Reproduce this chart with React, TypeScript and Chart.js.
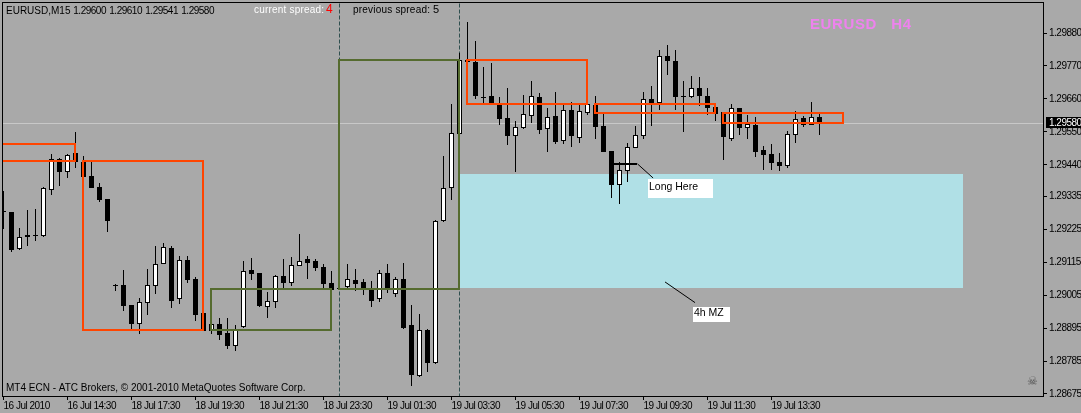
import React, { useEffect, useRef } from "react";
import { Chart, registerables } from "chart.js";

Chart.register(...registerables);

const opens = [1.29286,1.29282,1.29159,1.29199,1.29206,1.29202,1.29356,1.29459,1.29416,1.29479,1.29449,1.29403,1.29366,1.29326,1.29039,1.29039,1.28972,1.28909,1.28979,1.29035,1.29109,1.29162,1.28992,1.29122,1.29059,1.28945,1.28885,1.28909,1.28878,1.28835,1.28899,1.29089,1.29079,1.28965,1.28982,1.29069,1.29046,1.29102,1.29126,1.29119,1.29099,1.29046,1.29029,1.29032,1.29055,1.29049,1.29026,1.28992,1.29079,1.29009,1.29059,1.28905,1.28735,1.28888,1.28778,1.29252,1.29363,1.29543,1.29790,1.29783,1.29668,1.29670,1.29646,1.29596,1.29536,1.29563,1.29603,1.29666,1.29560,1.29603,1.29520,1.29623,1.29530,1.29613,1.29640,1.29570,1.29486,1.29373,1.29419,1.29496,1.29536,1.29660,1.29646,1.29803,1.29786,1.29670,1.29666,1.29696,1.29670,1.29633,1.29616,1.29526,1.29630,1.29563,1.29573,1.29489,1.29476,1.29449,1.29436,1.29540,1.29596,1.29573,1.29600];
const highs = [1.29353,1.29284,1.29229,1.29289,1.29293,1.29366,1.29476,1.29463,1.29476,1.29550,1.29469,1.29449,1.29379,1.29326,1.29042,1.29089,1.28972,1.28995,1.29092,1.29169,1.29179,1.29169,1.29136,1.29136,1.29066,1.28945,1.28909,1.28929,1.28929,1.28905,1.29119,1.29129,1.29079,1.29016,1.29072,1.29126,1.29132,1.29209,1.29136,1.29126,1.29109,1.29086,1.29032,1.29109,1.29092,1.29059,1.29052,1.29089,1.29109,1.29066,1.29112,1.28972,1.28942,1.28892,1.29256,1.29469,1.29643,1.29813,1.29917,1.29853,1.29766,1.29780,1.29666,1.29696,1.29586,1.29673,1.29720,1.29680,1.29630,1.29683,1.29640,1.29650,1.29640,1.29646,1.29670,1.29610,1.29486,1.29449,1.29513,1.29570,1.29683,1.29703,1.29823,1.29840,1.29823,1.29720,1.29736,1.29733,1.29696,1.29643,1.29616,1.29643,1.29630,1.29606,1.29600,1.29503,1.29509,1.29479,1.29553,1.29620,1.29603,1.29650,1.29610];
const lows = [1.29226,1.29149,1.29156,1.29169,1.29186,1.29199,1.29339,1.29369,1.29396,1.29429,1.29399,1.29363,1.29316,1.29216,1.29019,1.28952,1.28892,1.28875,1.28939,1.29009,1.29109,1.28962,1.28975,1.29046,1.28919,1.28885,1.28875,1.28855,1.28825,1.28818,1.28895,1.29055,1.28965,1.28929,1.28962,1.29026,1.29035,1.29102,1.29059,1.29086,1.29029,1.29022,1.29022,1.29029,1.29019,1.29006,1.28965,1.28982,1.29012,1.28999,1.28892,1.28702,1.28732,1.28748,1.28775,1.29249,1.29322,1.29543,1.29783,1.29660,1.29646,1.29646,1.29573,1.29506,1.29416,1.29560,1.29580,1.29543,1.29483,1.29509,1.29509,1.29499,1.29513,1.29606,1.29526,1.29483,1.29329,1.29309,1.29383,1.29496,1.29526,1.29570,1.29623,1.29740,1.29623,1.29550,1.29663,1.29636,1.29606,1.29586,1.29456,1.29520,1.29540,1.29526,1.29466,1.29423,1.29423,1.29419,1.29429,1.29513,1.29566,1.29573,1.29541];
const closes = [1.29282,1.29156,1.29199,1.29206,1.29206,1.29363,1.29459,1.29416,1.29473,1.29449,1.29399,1.29363,1.29322,1.29252,1.29036,1.28969,1.28909,1.28982,1.29039,1.29109,1.29166,1.28985,1.29122,1.29055,1.28939,1.28885,1.28909,1.28872,1.28835,1.28892,1.29086,1.29076,1.28969,1.28985,1.29069,1.29046,1.29106,1.29119,1.29112,1.29096,1.29042,1.29022,1.29029,1.29059,1.29042,1.29029,1.28985,1.29079,1.29026,1.29059,1.28895,1.28738,1.28888,1.28778,1.29252,1.29363,1.29546,1.29790,1.29783,1.29670,1.29664,1.29646,1.29593,1.29536,1.29566,1.29610,1.29670,1.29556,1.29600,1.29516,1.29623,1.29536,1.29620,1.29643,1.29566,1.29483,1.29373,1.29423,1.29499,1.29540,1.29660,1.29646,1.29803,1.29786,1.29666,1.29670,1.29696,1.29670,1.29630,1.29610,1.29533,1.29630,1.29563,1.29576,1.29483,1.29473,1.29446,1.29436,1.29543,1.29593,1.29573,1.29600,1.29580];

const priceTicks = [1.2988,1.2977,1.2966,1.2955,1.2944,1.29335,1.29225,1.29115,1.29005,1.28895,1.28785,1.28675];
const timeTickBars = [0,8,16,24,32,40,48,56,64,72,80,88,96];
const timeLabels = ["16 Jul 2010","16 Jul 14:30","18 Jul 17:30","18 Jul 19:30","18 Jul 21:30","18 Jul 23:30","19 Jul 01:30","19 Jul 03:30","19 Jul 05:30","19 Jul 07:30","19 Jul 09:30","19 Jul 11:30","19 Jul 13:30"];

const currentPrice = 1.2958;
const separatorBars = [42, 57];
const orangeBoxes = [[10,25,1.29453,1.28888],[58,73,1.29790,1.29643],[74,89,1.29643,1.29613],[90,105,1.29613,1.29580]];
const orangeOpenBox = { right: 9, top: 1.29509, bottom: 1.29453 };
const oliveBoxes = [[26,41,1.29025,1.28888],[42,57,1.29790,1.29025]];
const zoneBox = [57, 120, 1.29409, 1.29029];
const entryLine = [[76, 1.29443],[79.3, 1.29443]];
const longPointer = [[79.25, 1.29443],[81.2, 1.29396]];
const zonePointer = [[82.69, 1.29049],[86.44, 1.28980]];
const longNote = { text: "Long Here", box: [80.56, 88.69, 1.29392, 1.29329] };
const zoneNote = { text: "4h MZ", box: [86.15, 90.81, 1.28966, 1.28915] };

const symbolLabel = "EURUSD,M15";
const quoteLabels = ["1.29600", "1.29610", "1.29541", "1.29580"];
const copyrightText = "MT4 ECN - ATC Brokers, \u00A9 2001-2010 MetaQuotes Software Corp.";
const symbolTitle = "EURUSD   H4";
const ORANGE = "#FF4500";
const OLIVE = "#556B2F";
const FONT = '"Liberation Sans"';

const rectPoints = (b: number[]) => [
  { x: b[0], y: b[2] }, { x: b[1], y: b[2] }, { x: b[1], y: b[3] }, { x: b[0], y: b[3] }, { x: b[0], y: b[2] },
];
const boxLine = (data: any[], color: string) => ({
  type: "line", data, borderColor: color, borderWidth: 2, pointRadius: 0, tension: 0,
  borderCapStyle: "square", borderJoinStyle: "miter", order: 1, snap: true, fill: false,
});

const snapPlugin = {
  id: "snap",
  afterDatasetsUpdate(chart: any) {
    chart.data.datasets.forEach((ds: any, idx: number) => {
      const meta = chart.getDatasetMeta(idx);
      if (ds.type === "line") {
        if (!ds.snap) return;
        const odd = ds.borderWidth % 2 === 1 ? 0.5 : 0;
        meta.data.forEach((p: any) => {
          p.x = Math.floor(p.x) + odd;
          p.y = Math.round(p.y) + odd;
        });
      } else {
        meta.data.forEach((b: any) => {
          const top = Math.round(Math.min(b.y, b.base));
          let bot = Math.round(Math.max(b.y, b.base));
          if (bot <= top) bot = top + 1;
          b.y = top;
          b.base = bot;
          b.height = bot - top;
        });
      }
    });
  },
};

const drawText = (ctx: any, text: string, x: number, y: number, color: string, font: string, spacing = "0px") => {
  ctx.save();
  ctx.font = font;
  ctx.fillStyle = color;
  ctx.textBaseline = "middle";
  ctx.textAlign = "left";
  ctx.letterSpacing = spacing;
  ctx.fillText(text, x, y);
  ctx.restore();
};

const overlayPlugin = {
  id: "overlay",
  beforeDraw(chart: any) {
    const { ctx, width, height } = chart;
    ctx.save();
    ctx.fillStyle = "#A9A9A9";
    ctx.fillRect(0, 0, width, height);
    ctx.restore();
    ctx.letterSpacing = "-0.5px";
  },
  beforeDatasetsDraw(chart: any) {
    const { ctx, scales: { x, y } } = chart;
    ctx.save();
    ctx.fillStyle = "#B0E0E6";
    const l = Math.floor(x.getPixelForValue(zoneBox[0]));
    const r = Math.floor(x.getPixelForValue(zoneBox[1]));
    const t = Math.round(y.getPixelForValue(zoneBox[2]));
    const b = Math.round(y.getPixelForValue(zoneBox[3]));
    ctx.fillRect(l, t, r - l, b - t);
    ctx.restore();
  },
  afterDraw(chart: any) {
    const { ctx, scales: { x, y } } = chart;
    ctx.save();
    ctx.strokeStyle = "#000";
    ctx.lineWidth = 1;
    ctx.strokeRect(2.5, 2.5, 1041, 394);
    ctx.restore();

    for (const note of [longNote, zoneNote]) {
      const l = Math.round(x.getPixelForValue(note.box[0]));
      const r = Math.round(x.getPixelForValue(note.box[1]));
      const t = Math.round(y.getPixelForValue(note.box[2]));
      const b = Math.round(y.getPixelForValue(note.box[3]));
      ctx.save();
      ctx.fillStyle = "#FFFFFF";
      ctx.fillRect(l, t, r - l, b - t);
      ctx.restore();
      drawText(ctx, note.text, l + 1, (t + b) / 2 - 1, "#000", `10.5px ${FONT}`);
    }

    drawText(ctx, symbolLabel, 6, 11, "#000", `10px ${FONT}`);
    [73.3, 109.3, 145.3, 181.3].forEach((qx, i) =>
      drawText(ctx, quoteLabels[i], qx, 11, "#000", `10px ${FONT}`, "-0.5px")
    );
    drawText(ctx, "current spread:", 254, 10, "#FFF", `10px ${FONT}`, "0.2px");
    drawText(ctx, "4", 326, 10, "#FF0000", `12px ${FONT}`);
    drawText(ctx, "previous spread:", 353, 10, "#000", `10px ${FONT}`, "0.2px");
    drawText(ctx, "5", 433, 10, "#000", `11px ${FONT}`);
    drawText(ctx, symbolTitle, 810, 25, "#EE82EE", `bold 15px ${FONT}`, "0.6px");
    drawText(ctx, copyrightText, 6, 388, "#000", `10px ${FONT}`);
    drawText(ctx, "\u2620", 1027, 382, "#555555", '12px "DejaVu Sans"');

    const py = Math.round(y.getPixelForValue(currentPrice));
    ctx.save();
    ctx.fillStyle = "#000";
    ctx.fillRect(1046, py - 6, 35, 11);
    ctx.restore();
    drawText(ctx, currentPrice.toFixed(5), 1049, py, "#FFF", `10px ${FONT}`, "-0.5px");
  },
};

export default function App() {
  const ref = useRef<HTMLCanvasElement | null>(null);
  useEffect(() => {
    if (!ref.current) return;
    document.body.style.margin = "0";
    const isUp = (i: number) => closes[i] > opens[i];
    const config: any = {
      type: "bar",
      data: {
        datasets: [
          ...orangeBoxes.map((b) => boxLine(rectPoints(b), ORANGE)),
          boxLine(
            [
              { x: -0.19, y: orangeOpenBox.top },
              { x: orangeOpenBox.right, y: orangeOpenBox.top },
              { x: orangeOpenBox.right, y: orangeOpenBox.bottom },
              { x: -0.19, y: orangeOpenBox.bottom },
            ],
            ORANGE
          ),
          ...oliveBoxes.map((b) => boxLine(rectPoints(b), OLIVE)),
          {
            type: "line",
            data: [{ x: -0.19, y: currentPrice }, { x: 130, y: currentPrice }],
            borderColor: "#C8C8C8", borderWidth: 1, pointRadius: 0, order: 6, snap: true,
          },
          ...separatorBars.map((b) => ({
            type: "line",
            data: [{ x: b, y: 1.3 }, { x: b, y: 1.2866 }],
            borderColor: "#2F4F4F", borderWidth: 1, borderDash: [4, 2], pointRadius: 0, order: 5, snap: true,
          })),
          {
            type: "line", data: entryLine.map(([x, y]) => ({ x, y })),
            borderColor: "#000", borderWidth: 2, pointRadius: 0, order: 1, snap: true,
          },
          {
            type: "line", data: longPointer.map(([x, y]) => ({ x, y })),
            borderColor: "#000", borderWidth: 1, pointRadius: 0, order: 1,
          },
          {
            type: "line", data: zonePointer.map(([x, y]) => ({ x, y })),
            borderColor: "#000", borderWidth: 1, pointRadius: 0, order: 1,
          },
          {
            type: "bar", label: "bodies", grouped: false, order: 2, barThickness: 5,
            data: opens.map((o, i) => ({ x: i, y: [o, closes[i]] })),
            backgroundColor: opens.map((_, i) => (isUp(i) ? "#FFFFFF" : "#000000")),
            borderColor: "#000000", borderWidth: 1, borderSkipped: false, inflateAmount: 0,
          },
          {
            type: "bar", label: "wicks", grouped: false, order: 3, barThickness: 1,
            data: highs.map((h, i) => ({ x: i, y: [lows[i], h] })),
            backgroundColor: "#000000", borderWidth: 0, inflateAmount: 0,
          },
        ],
      },
      options: {
        responsive: false,
        animation: false,
        events: [],
        layout: { padding: { left: 2, top: 2, right: 0, bottom: 0 } },
        plugins: { legend: { display: false }, tooltip: { enabled: false } },
        scales: {
          x: {
            type: "linear",
            min: -0.1875,
            max: 129.9375,
            offset: false,
            afterBuildTicks: (s: any) => { s.ticks = timeTickBars.map((v) => ({ value: v })); },
            afterFit: (s: any) => { s.height = 17; s.paddingLeft = 0; s.paddingRight = 0; },
            grid: { display: true, drawOnChartArea: false, drawTicks: true, tickLength: 4, tickColor: "#000", offset: false },
            border: { display: false },
            ticks: {
              autoSkip: false, maxRotation: 0, minRotation: 0, align: "start", padding: 0,
              color: "#000", font: { family: "Liberation Sans", size: 10 },
              callback: (_v: any, i: number) => timeLabels[i],
            },
          },
          y: {
            type: "linear",
            position: "right",
            min: 1.286683,
            max: 1.299835,
            afterBuildTicks: (s: any) => { s.ticks = priceTicks.map((v) => ({ value: v })); },
            afterFit: (s: any) => { s.width = 38; s.paddingTop = 0; s.paddingBottom = 0; },
            grid: { display: true, drawOnChartArea: false, drawTicks: true, tickLength: 4, tickColor: "#000" },
            border: { display: false },
            ticks: {
              autoSkip: false, padding: 2, color: "#000", font: { family: "Liberation Sans", size: 10 },
              callback: (v: any) => Number(v).toFixed(5),
            },
          },
        },
      },
      plugins: [snapPlugin, overlayPlugin],
    };
    const chart = new Chart(ref.current, config);
    return () => chart.destroy();
  }, []);
  return <canvas ref={ref} width={1081} height={413} style={{ display: "block", position: "fixed", left: 0, top: 0 }} />;
}
